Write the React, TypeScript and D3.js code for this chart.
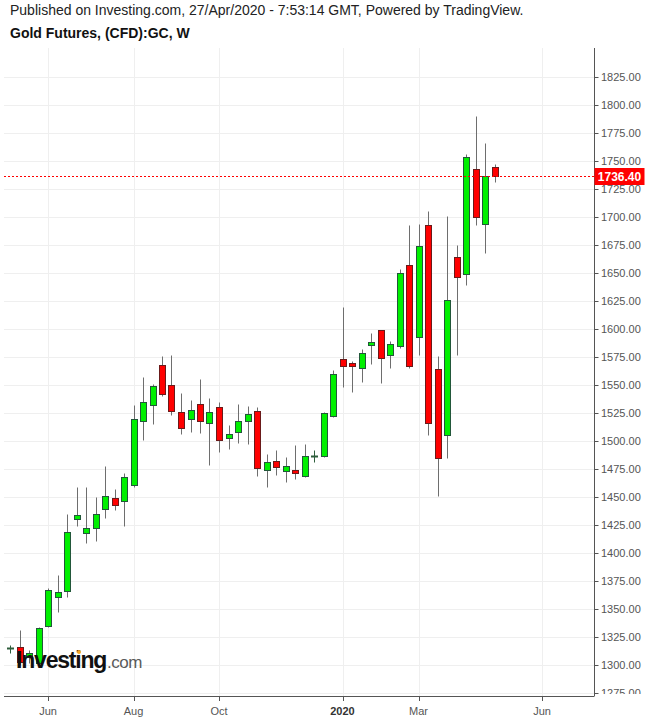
import React from "react";
import * as d3 from "d3";

// ---- data (weekly candles, Gold Futures CFD) ----
const firstWeek = new Date(2019, 4, 6);
const lastWeek = new Date(2020, 3, 27);
const weeks = d3.timeMonday.range(firstWeek, d3.timeDay.offset(lastWeek, 1));

const opens = [1315, 1316, 1307, 1302, 1335, 1361, 1366, 1430, 1418, 1422, 1439, 1449, 1446, 1461, 1518, 1532, 1568, 1550, 1526, 1520, 1533, 1516, 1530, 1503, 1508, 1518, 1527, 1474, 1482, 1473, 1474, 1469, 1486, 1487, 1522, 1573, 1570, 1565, 1586, 1599, 1576.5, 1585, 1657, 1593, 1693, 1564, 1505, 1664, 1649, 1743, 1694, 1745];
const highs = [1318, 1331, 1313, 1334, 1369, 1380, 1435, 1459, 1459, 1450, 1478, 1457, 1471, 1532, 1557, 1551, 1576, 1577, 1543, 1537, 1555, 1538, 1535, 1514, 1533, 1531, 1530, 1488, 1492, 1486, 1496, 1497, 1492, 1526, 1563, 1620, 1571, 1582, 1596, 1599, 1589, 1654, 1693, 1694, 1705, 1576, 1701, 1675, 1756, 1790, 1766, 1747];
const lows = [1311, 1300, 1302, 1298, 1334, 1347, 1361, 1424, 1409, 1411, 1431, 1438, 1424, 1459, 1501, 1515, 1540, 1523, 1506, 1508, 1507, 1479, 1490, 1493, 1498, 1497, 1469, 1459, 1470, 1463, 1466, 1468, 1481, 1486, 1521, 1548, 1544, 1553, 1569, 1552, 1565, 1583, 1565, 1577, 1505, 1451, 1485, 1577, 1639, 1693, 1668, 1731.5];
const closes = [1315.5, 1303, 1311, 1333, 1367, 1365, 1419, 1434, 1422, 1435, 1451, 1443, 1468, 1520, 1535, 1549, 1542, 1527, 1512, 1528, 1518, 1526, 1501, 1506, 1518, 1524, 1476, 1481, 1477, 1478, 1471, 1487, 1486.5, 1525, 1560, 1567, 1567, 1579, 1588, 1574, 1587, 1650, 1567, 1674, 1516, 1485, 1626, 1646, 1754, 1700, 1737, 1736.4];

const priceTicks = [1275, 1300, 1325, 1350, 1375, 1400, 1425, 1450, 1475, 1500, 1525, 1550, 1575, 1600, 1625, 1650, 1675, 1700, 1725, 1750, 1775, 1800, 1825];
const timeTickDates = [new Date(2019, 5, 3), new Date(2019, 7, 5), new Date(2019, 9, 7), new Date(2020, 0, 6), new Date(2020, 2, 2), new Date(2020, 5, 1)];
const timeTickLabels = ["Jun", "Aug", "Oct", "2020", "Mar", "Jun"];
const lastPrice = 1736.4;

const W = 648;
const H = 721;
const plotLeft = 4;
const plotRight = 594.5;
const plotTop = 48;
const plotBottom = 696;
const FONT = "'Liberation Sans', Arial, Helvetica, sans-serif";

export default function App() {
  const x = d3.scaleTime().domain([firstWeek, lastWeek]).range([10, 494.5]);
  const y = d3.scaleLinear().domain([1300, 1825]).range([665, 77]);

  const candles = weeks.map((d, i) => ({ d, o: opens[i], h: highs[i], l: lows[i], c: closes[i] }));
  const py = (v: number) => Math.round(y(v)) + 0.5;

  return (
    <svg width={W} height={H} style={{ position: "absolute", left: 0, top: 0, background: "#fff" }} fontFamily={FONT}>
      <defs>
        <clipPath id="axisClip">
          <rect x={plotRight} y={plotTop} width={W - plotRight} height={694 - plotTop} />
        </clipPath>
        <clipPath id="plotClip">
          <rect x={plotLeft} y={plotTop} width={plotRight - plotLeft} height={plotBottom - plotTop} />
        </clipPath>
      </defs>
      <rect x={0} y={0} width={W} height={H} fill="#fff" />
      <text x={10} y={15} fontSize={14} fill="#222">Published on Investing.com, 27/Apr/2020 - 7:53:14 GMT, Powered by TradingView.</text>
      <text x={10} y={38} fontSize={14} fontWeight="bold" fill="#111">Gold Futures, (CFD):GC, W</text>

      {/* grid */}
      <g clipPath="url(#plotClip)">
        {priceTicks.map((t) => (
          <line key={"h" + t} x1={plotLeft} x2={plotRight} y1={py(t)} y2={py(t)} stroke="#efefef" strokeWidth={1} />
        ))}
        {timeTickDates.map((t, i) => (
          <line key={"v" + i} x1={Math.round(x(t)) + 0.5} x2={Math.round(x(t)) + 0.5} y1={plotTop} y2={plotBottom} stroke="#efefef" strokeWidth={1} />
        ))}
      </g>

      {/* candles */}
      <g clipPath="url(#plotClip)">
        {candles.map((k, i) => {
          const c = Math.round(x(k.d));
          const up = k.c >= k.o;
          const doji = Math.abs(k.c - k.o) < 1;
          const yTop = Math.round(y(Math.max(k.o, k.c)));
          const yBot = Math.round(y(Math.min(k.o, k.c)));
          if (doji) {
            return (
              <g key={i}>
                <line x1={c + 0.5} x2={c + 0.5} y1={py(k.h)} y2={py(k.l)} stroke="#2e5e3c" strokeWidth={1} />
                <line x1={c - 3} x2={c + 4} y1={py(k.c)} y2={py(k.c)} stroke="#2e5e3c" strokeWidth={2} />
              </g>
            );
          }
          return (
            <g key={i}>
              <line x1={c + 0.5} x2={c + 0.5} y1={py(k.h)} y2={py(k.l)} stroke="#6e6e6e" strokeWidth={1} />
              <rect
                x={c - 2.5}
                y={yTop + 0.5}
                width={6}
                height={Math.max(1, yBot - yTop)}
                fill={up ? "#00f000" : "#ff0000"}
                stroke={up ? "#22573a" : "#6a1a1a"}
                strokeWidth={1}
              />
            </g>
          );
        })}
      </g>

      {/* last price line */}
      <line x1={plotLeft} x2={plotRight} y1={py(lastPrice)} y2={py(lastPrice)} stroke="#ff0000" strokeWidth={1} strokeDasharray="2,2" />

      {/* watermark logo */}
      <g>
        <text x={16} y={668} fontSize={23} fontWeight="bold" fill="#111" letterSpacing={-1.2} fontFamily={FONT}>Investing</text>
        <text x={107} y={668} fontSize={17} fill="#5a5a5a" letterSpacing={-0.5} fontFamily={FONT}>.com</text>
        <circle cx={79} cy={652} r={2} fill="#f5a623" />
      </g>

      {/* right axis */}
      <line x1={plotRight} x2={plotRight} y1={plotTop} y2={plotBottom} stroke="#555" strokeWidth={1} />
      <g clipPath="url(#axisClip)">
        {priceTicks.map((t) => (
          <g key={"yt" + t}>
            <line x1={plotRight} x2={plotRight + 4} y1={py(t)} y2={py(t)} stroke="#555" />
            <text x={601} y={y(t) + 4} fontSize={11} fill="#555">{d3.format(".2f")(t)}</text>
          </g>
        ))}
      </g>
      <rect x={plotRight} y={Math.round(y(lastPrice)) - 8} width={50} height={17} fill="#ff0000" />
      <text x={619.5} y={y(lastPrice) + 4.5} fontSize={12} fontWeight="bold" fill="#fff" textAnchor="middle">{d3.format(".2f")(lastPrice)}</text>

      {/* bottom axis */}
      <line x1={plotLeft} x2={plotRight} y1={plotBottom + 0.5} y2={plotBottom + 0.5} stroke="#555" strokeWidth={1} />
      {timeTickDates.map((t, i) => (
        <g key={"xt" + i}>
          <line x1={Math.round(x(t)) + 0.5} x2={Math.round(x(t)) + 0.5} y1={plotBottom} y2={plotBottom + 5} stroke="#555" />
          <text
            x={x(t)}
            y={715}
            fontSize={11}
            textAnchor="middle"
            fill={timeTickLabels[i] === "2020" ? "#333" : "#555"}
            fontWeight={timeTickLabels[i] === "2020" ? "bold" : "normal"}
          >
            {timeTickLabels[i]}
          </text>
        </g>
      ))}
    </svg>
  );
}
